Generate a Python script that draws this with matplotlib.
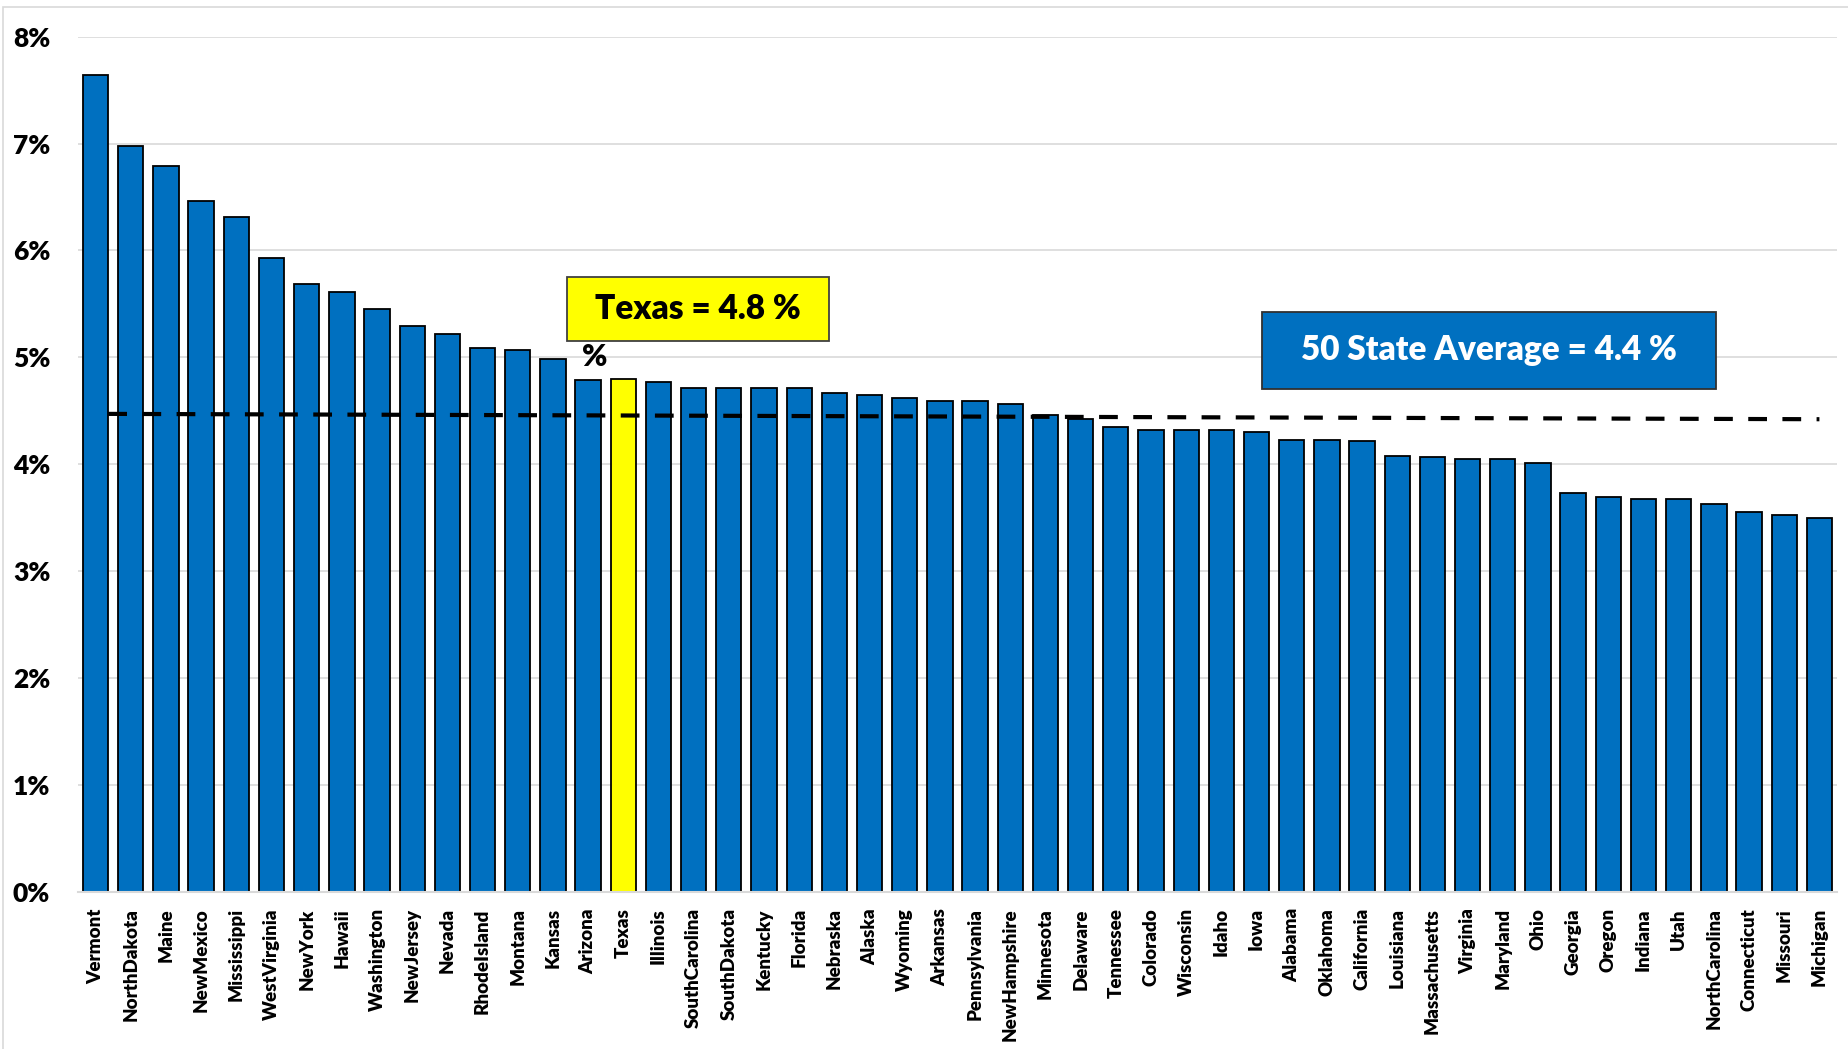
import matplotlib.pyplot as plt
from matplotlib.patches import Rectangle
from matplotlib.ticker import FuncFormatter

plt.rcParams['font.family'] = ['Lato', 'DejaVu Sans']

states = ['Vermont', 'NorthDakota', 'Maine', 'NewMexico', 'Mississippi', 'WestVirginia',
          'NewYork', 'Hawaii', 'Washington', 'NewJersey', 'Nevada', 'RhodeIsland',
          'Montana', 'Kansas', 'Arizona', 'Texas', 'Illinois', 'SouthCarolina',
          'SouthDakota', 'Kentucky', 'Florida', 'Nebraska', 'Alaska', 'Wyoming',
          'Arkansas', 'Pennsylvania', 'NewHampshire', 'Minnesota', 'Delaware',
          'Tennessee', 'Colorado', 'Wisconsin', 'Idaho', 'Iowa', 'Alabama', 'Oklahoma',
          'California', 'Louisiana', 'Massachusetts', 'Virginia', 'Maryland', 'Ohio',
          'Georgia', 'Oregon', 'Indiana', 'Utah', 'NorthCarolina', 'Connecticut',
          'Missouri', 'Michigan']
rates = [7.64, 6.98, 6.79, 6.46, 6.31, 5.93, 5.69, 5.61, 5.45, 5.29, 5.22, 5.09,
         5.07, 4.98, 4.79, 4.80, 4.77, 4.71, 4.71, 4.71, 4.71, 4.67, 4.65, 4.62,
         4.59, 4.59, 4.56, 4.46, 4.42, 4.35, 4.32, 4.32, 4.32, 4.30, 4.23, 4.23,
         4.22, 4.08, 4.07, 4.05, 4.05, 4.01, 3.73, 3.69, 3.67, 3.67, 3.63, 3.55,
         3.52, 3.50]
avg_line = [4.47, 4.42]   # dashed average line, left end / right end
highlight = 'Texas'
yticks = [0, 1, 2, 3, 4, 5, 6, 7, 8]

blue = '#0070C0'
yellow = '#FFFF00'
grid = '#D9D9D9'

W, H = 1849, 1049


def fx(px):
    return px / W


def fy(py):
    return 1 - py / H


fig = plt.figure(figsize=(W / 100, H / 100), dpi=100)
# light frame round the whole chart
fig.patches.append(Rectangle((fx(3), -0.01), 1.0, fy(7) + 0.01,
                             transform=fig.transFigure, fill=False,
                             edgecolor=grid, linewidth=1.2))

ax = fig.add_axes([fx(78), fy(891.5), fx(1837 - 78), (891.5 - 36.7) / H])

x = list(range(len(states)))
colors = [yellow if s == highlight else blue for s in states]
ax.bar(x, rates, width=0.72, color=colors, edgecolor='black', linewidth=1.3, zorder=2)

ax.plot([0.36, len(states) - 1], avg_line, color='black', linewidth=3.0,
        dashes=(4.5, 3.7), solid_capstyle='butt', dash_capstyle='butt', zorder=3)

ax.set_xlim(-0.5, len(states) - 0.5)
ax.set_ylim(0, 8)
ax.set_yticks(yticks)
ax.yaxis.set_major_formatter(FuncFormatter(lambda v, p: f'{v:.0f}%'))
ax.grid(axis='y', color=grid, linewidth=1.2, zorder=0)
ax.set_axisbelow(True)

for side in ['top', 'right', 'left']:
    ax.spines[side].set_visible(False)
ax.spines['bottom'].set_color(grid)
ax.spines['bottom'].set_linewidth(1.5)

ax.set_xticks(x)
ax.set_xticklabels(states, rotation=90, fontsize=13.5, fontweight='heavy')
ax.tick_params(axis='x', length=0, pad=12)
ax.tick_params(axis='y', length=0, pad=20, labelsize=19)
for t in ax.get_yticklabels():
    t.set_fontweight('heavy')

# callout boxes
fig.patches.append(Rectangle((fx(567), fy(341)), fx(829 - 567), (341 - 277) / H,
                             transform=fig.transFigure, facecolor=yellow,
                             edgecolor='#404040', linewidth=1.3, zorder=5))
fig.text(fx(698), fy(309), 'Texas = 4.8 %', fontsize=24, fontweight='heavy',
         color='black', ha='center', va='center', zorder=6)
fig.text(fx(595), fy(357), '%', fontsize=22, fontweight='heavy', ha='center',
         va='center', zorder=6)

fig.patches.append(Rectangle((fx(1262), fy(389)), fx(1716 - 1262), (389 - 312) / H,
                             transform=fig.transFigure, facecolor=blue,
                             edgecolor='#303030', linewidth=1.3, zorder=5))
fig.text(fx(1489), fy(350), '50 State Average = 4.4 %', fontsize=24, fontweight='heavy',
         color='white', ha='center', va='center', zorder=6)

fig.savefig('out.png', dpi=100)
